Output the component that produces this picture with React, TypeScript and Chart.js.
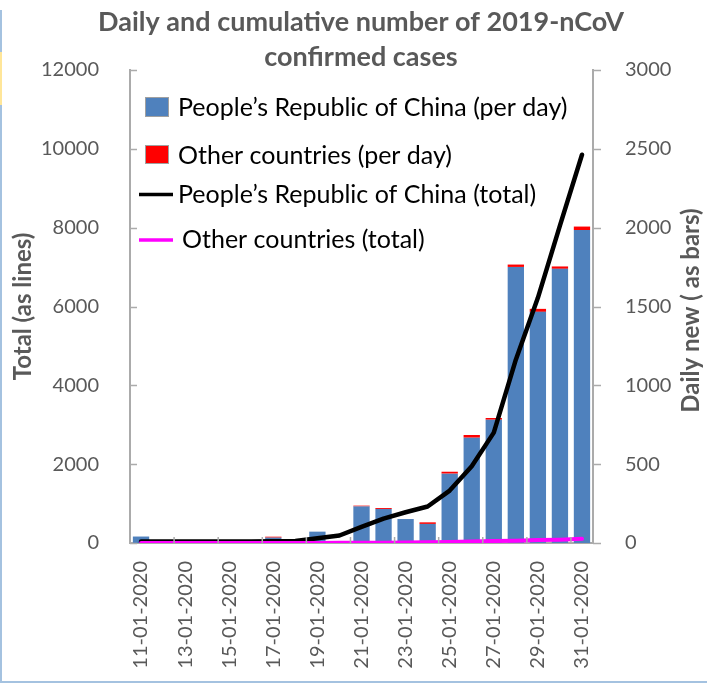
import React, { useEffect, useRef } from "react";
import { Chart, registerables } from "chart.js";

Chart.register(...registerables);

// ---------- data ----------
const categories = [
  "11-01-2020", "12-01-2020", "13-01-2020", "14-01-2020", "15-01-2020",
  "16-01-2020", "17-01-2020", "18-01-2020", "19-01-2020", "20-01-2020",
  "21-01-2020", "22-01-2020", "23-01-2020", "24-01-2020", "25-01-2020",
  "26-01-2020", "27-01-2020", "28-01-2020", "29-01-2020", "30-01-2020",
  "31-01-2020",
];
const chinaDaily = [41, 0, 0, 0, 0, 0, 34, 0, 72, 0, 232, 216, 152, 121, 440, 668, 782, 1751, 1466, 1739, 1985];
const otherDaily = [0, 0, 0, 0, 0, 0, 6, 0, 0, 0, 5, 6, 0, 10, 12, 17, 11, 15, 19, 15, 22];
const chinaTotal = [41, 41, 41, 41, 41, 41, 45, 50, 120, 190, 410, 620, 780, 925, 1330, 1945, 2800, 4650, 6220, 8050, 9850];
const otherTotal = [0, 0, 1, 1, 1, 2, 3, 3, 3, 4, 7, 9, 12, 17, 28, 41, 52, 60, 73, 85, 105];

const leftAxisMax = 12000;
const leftAxisStep = 2000;
const rightAxisMax = 3000;
const rightAxisStep = 500;

const titleLines = ["Daily and cumulative number of 2019-nCoV", "confirmed cases"];
const leftAxisTitle = "Total (as lines)";
const rightAxisTitle = "Daily new ( as bars)";
const seriesLabels = [
  "People\u2019s Republic of China (per day)",
  "Other countries (per day)",
  "People\u2019s Republic of China (total)",
  "Other countries (total)",
];

// ---------- styles ----------
const BLUE = "#4F81BD";
const RED = "#FF0000";
const BLACK = "#000000";
const MAGENTA = "#FF00FF";
const GRAY_TEXT = "#595959";
const AXIS_GRAY = "#ABABAB";
const FONT = "Lato";

const innerTicksPlugin = {
  id: "innerTicks",
  afterDatasetsDraw(chart: any) {
    const { ctx, chartArea } = chart;
    const ys = chart.scales.y;
    const y1 = chart.scales.y1;
    const xs = chart.scales.x;
    ctx.save();
    ctx.strokeStyle = AXIS_GRAY;
    ctx.lineWidth = 1.5;
    ctx.beginPath();
    ys.ticks.forEach((t: any) => {
      const py = Math.round(ys.getPixelForValue(t.value)) + 0.5;
      ctx.moveTo(chartArea.left, py);
      ctx.lineTo(chartArea.left + 7, py);
    });
    y1.ticks.forEach((t: any) => {
      const py = Math.round(y1.getPixelForValue(t.value)) + 0.5;
      ctx.moveTo(chartArea.right, py);
      ctx.lineTo(chartArea.right + 8, py);
    });
    for (let k = 2; k < categories.length; k += 2) {
      const px = (xs.getPixelForValue(k - 1) + xs.getPixelForValue(k)) / 2;
      ctx.moveTo(px, chartArea.bottom);
      ctx.lineTo(px, chartArea.bottom - 6);
    }
    ctx.stroke();
    ctx.restore();
  },
};

const legendPlugin = {
  id: "customLegend",
  afterDraw(chart: any) {
    const { ctx, chartArea } = chart;
    const L = chartArea.left;
    const T = chartArea.top;
    ctx.save();
    ctx.font = `25px ${FONT}`;
    ctx.textBaseline = "alphabetic";
    ctx.textAlign = "left";
    const rows = [
      { kind: "box", color: BLUE, boxTop: 27, boxH: 20, base: 46, textX: 48 },
      { kind: "box", color: RED, boxTop: 75, boxH: 19, base: 94, textX: 48 },
      { kind: "line", color: BLACK, lineY: 124.5, base: 133, textX: 48 },
      { kind: "line", color: MAGENTA, lineY: 170, base: 178, textX: 52 },
    ];
    rows.forEach((r: any, i: number) => {
      if (r.kind === "box") {
        ctx.fillStyle = r.color;
        ctx.fillRect(L + 15, T + r.boxTop, 24, r.boxH);
        ctx.strokeStyle = "#A0A0A0";
        ctx.lineWidth = 1;
        ctx.strokeRect(L + 15.5, T + r.boxTop + 0.5, 23, r.boxH - 1);
      } else {
        ctx.strokeStyle = r.color;
        ctx.lineWidth = 3.5;
        ctx.beginPath();
        ctx.moveTo(L + 9, T + r.lineY);
        ctx.lineTo(L + 43, T + r.lineY);
        ctx.stroke();
      }
      ctx.fillStyle = "#000000";
      ctx.fillText(seriesLabels[i], L + r.textX, T + r.base);
    });
    ctx.restore();
  },
};

const rightTitlePlugin = {
  id: "rightTitle",
  afterDraw(chart: any) {
    const { ctx, chartArea } = chart;
    ctx.save();
    ctx.font = `bold 24px ${FONT}`;
    ctx.fillStyle = GRAY_TEXT;
    ctx.textAlign = "center";
    ctx.textBaseline = "middle";
    ctx.translate(chartArea.right + 98, (chartArea.top + chartArea.bottom) / 2 + 4);
    ctx.rotate(-Math.PI / 2);
    ctx.fillText(rightAxisTitle, 0, 0);
    ctx.restore();
  },
};

const plainNumber = (v: any) => String(v);

export default function App() {
  const canvasRef = useRef<HTMLCanvasElement | null>(null);

  useEffect(() => {
    if (!canvasRef.current) return;
    const chart = new Chart(canvasRef.current, {
      type: "bar",
      data: {
        labels: categories,
        datasets: [
          {
            type: "line",
            label: seriesLabels[3],
            data: otherTotal,
            yAxisID: "y",
            borderColor: MAGENTA,
            backgroundColor: MAGENTA,
            borderWidth: 4,
            pointRadius: 0,
            tension: 0,
            borderJoinStyle: "round",
            borderCapStyle: "round",
            order: 0,
          } as any,
          {
            type: "line",
            label: seriesLabels[2],
            data: chinaTotal,
            yAxisID: "y",
            borderColor: BLACK,
            backgroundColor: BLACK,
            borderWidth: 4.5,
            pointRadius: 0,
            tension: 0,
            borderJoinStyle: "round",
            borderCapStyle: "round",
            order: 1,
          } as any,
          {
            type: "bar",
            label: seriesLabels[0],
            data: chinaDaily,
            yAxisID: "y1",
            backgroundColor: BLUE,
            barPercentage: 0.74,
            categoryPercentage: 1,
            stack: "daily",
            order: 2,
          },
          {
            type: "bar",
            label: seriesLabels[1],
            data: otherDaily,
            yAxisID: "y1",
            backgroundColor: RED,
            barPercentage: 0.74,
            categoryPercentage: 1,
            stack: "daily",
            order: 2,
          },
        ],
      },
      options: {
        responsive: false,
        animation: false,
        layout: { padding: { left: 15, right: 0, top: 0, bottom: 0 } },
        plugins: {
          legend: { display: false },
          tooltip: { enabled: false },
          title: {
            display: true,
            text: titleLines,
            color: GRAY_TEXT,
            fullSize: true,
            font: { family: FONT, size: 27, weight: "bold", lineHeight: "35px" } as any,
            padding: { top: 5, bottom: -5 },
          },
        },
        scales: {
          x: {
            type: "category",
            stacked: true,
            offset: true,
            grid: { display: false },
            border: { display: true, color: AXIS_GRAY, width: 2 },
            ticks: {
              autoSkip: false,
              maxRotation: 90,
              minRotation: 90,
              padding: 10,
              color: GRAY_TEXT,
              font: { family: FONT, size: 20 },
              callback: (_v: any, i: number) => (i % 2 === 0 ? categories[i] : ""),
            },
            afterFit: (s: any) => {
              s.height = 140;
            },
          },
          y: {
            type: "linear",
            position: "left",
            min: 0,
            max: leftAxisMax,
            grid: { display: false },
            border: { display: true, color: AXIS_GRAY, width: 2 },
            ticks: {
              stepSize: leftAxisStep,
              padding: 23,
              color: GRAY_TEXT,
              font: { family: FONT, size: 20 },
              callback: plainNumber,
            },
            title: {
              display: true,
              text: leftAxisTitle,
              color: GRAY_TEXT,
              font: { family: FONT, size: 24, weight: "bold" },
              padding: { top: -6, bottom: 0 },
            },
            afterFit: (s: any) => {
              s.width = 115;
            },
          },
          y1: {
            type: "linear",
            position: "right",
            stacked: true,
            min: 0,
            max: rightAxisMax,
            grid: { display: false },
            border: { display: true, color: AXIS_GRAY, width: 2 },
            ticks: {
              stepSize: rightAxisStep,
              padding: 24,
              color: GRAY_TEXT,
              font: { family: FONT, size: 20 },
              callback: plainNumber,
            },
            afterFit: (s: any) => {
              s.width = 114;
            },
          },
        },
      } as any,
      plugins: [innerTicksPlugin, legendPlugin, rightTitlePlugin],
    });
    return () => chart.destroy();
  }, []);

  return (
    <div style={{ position: "absolute", left: 0, top: 0, width: 707, height: 683, background: "#ffffff" }}>
      <canvas ref={canvasRef} width={707} height={683} style={{ display: "block" }} />
      <div style={{ position: "absolute", left: 0, top: 10, width: 2, height: 673, background: "#A4C2E0" }} />
      <div style={{ position: "absolute", left: 0, top: 52, width: 2, height: 53, background: "#FFE699" }} />
      <div style={{ position: "absolute", left: 0, top: 681, width: 707, height: 2, background: "#A4C2E0" }} />
    </div>
  );
}
